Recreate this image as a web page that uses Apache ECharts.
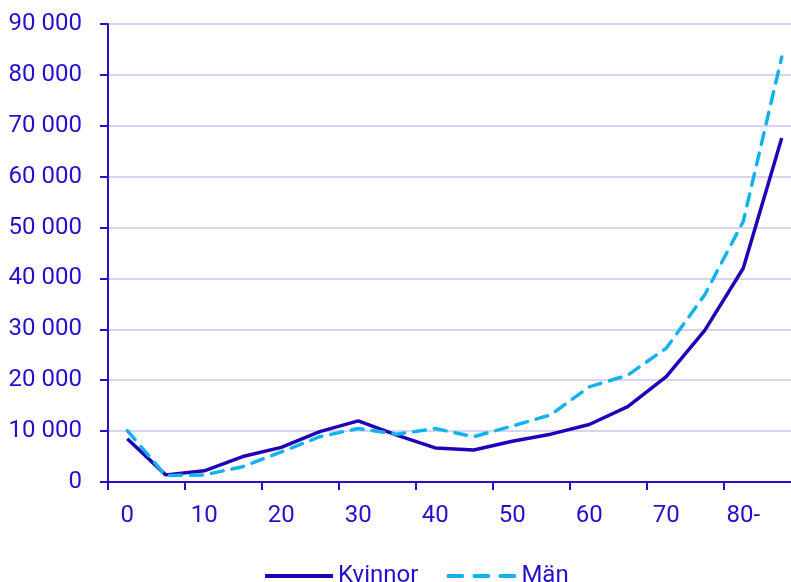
<!DOCTYPE html>
<html>
<head>
<meta charset="utf-8">
<script src="https://cdn.jsdelivr.net/npm/echarts@6/dist/echarts.min.js"></script>
<style>
  html, body { margin: 0; padding: 0; background: #fff; }
  #chart { width: 791px; height: 582px; }
</style>
</head>
<body>
<div id="chart"></div>
<script>
  // åldersgrupper (5-årsklasser)
  var ages = ['0', '5', '10', '15', '20', '25', '30', '35', '40', '45', '50', '55', '60', '65', '70', '75', '80-', '85'];
  var kvinnor = [8500, 1400, 2200, 5000, 6800, 9900, 12000, 9200, 6700, 6300, 8000, 9400, 11300, 14800, 20700, 29800, 42000, 67600];
  var man = [10100, 1250, 1400, 3000, 5900, 8900, 10500, 9400, 10500, 8900, 11000, 13200, 18700, 21000, 26300, 36800, 51200, 83500];
  var yTicks = [0, 90000, 10000]; // min, max, steg

  var textBlue = '#2410cc';
  var chart = echarts.init(document.getElementById('chart'));

  var option = {
    animation: false,
    grid: {
      left: 108,
      width: 693,
      top: 24,
      height: 458,
      outerBoundsMode: 'none',
      containLabel: false
    },
    legend: {
      top: 559,
      left: 258,
      itemWidth: 68,
      itemHeight: 14,
      itemGap: 28,
      itemStyle: { opacity: 0 },
      lineStyle: { width: 4 },
      textStyle: {
        color: textBlue,
        fontSize: 24,
        fontFamily: 'Roboto'
      },
      data: [
        'Kvinnor',
        { name: 'Män', lineStyle: { width: 4, type: [14, 12] } }
      ]
    },
    xAxis: {
      type: 'category',
      data: ages,
      boundaryGap: true,
      axisLine: { lineStyle: { color: textBlue, width: 2 } },
      axisTick: { show: true, length: 8, lineStyle: { color: textBlue, width: 2 } },
      axisLabel: {
        interval: 1,
        margin: 22,
        color: textBlue,
        fontSize: 24,
        fontFamily: 'Roboto'
      }
    },
    yAxis: {
      type: 'value',
      min: yTicks[0],
      max: yTicks[1],
      interval: yTicks[2],
      axisLine: { show: true, lineStyle: { color: textBlue, width: 2 } },
      axisTick: { show: true, length: 8, lineStyle: { color: textBlue, width: 2 } },
      splitLine: { lineStyle: { color: '#d6d4ee', width: 2 } },
      axisLabel: {
        margin: 26,
        color: textBlue,
        fontSize: 24,
        fontFamily: 'Roboto',
        formatter: function (v) {
          return String(v).replace(/\B(?=(\d{3})+(?!\d))/g, ' ');
        }
      }
    },
    series: [
      {
        name: 'Kvinnor',
        type: 'line',
        data: kvinnor,
        symbol: 'none',
        color: '#2003b8',
        lineStyle: { width: 3.5, color: '#2003b8' }
      },
      {
        name: 'Män',
        type: 'line',
        data: man,
        symbol: 'none',
        color: '#14b2ec',
        lineStyle: { width: 3.5, color: '#14b2ec', type: [12, 9], cap: 'round' }
      }
    ]
  };

  chart.setOption(option);
</script>
</body>
</html>
